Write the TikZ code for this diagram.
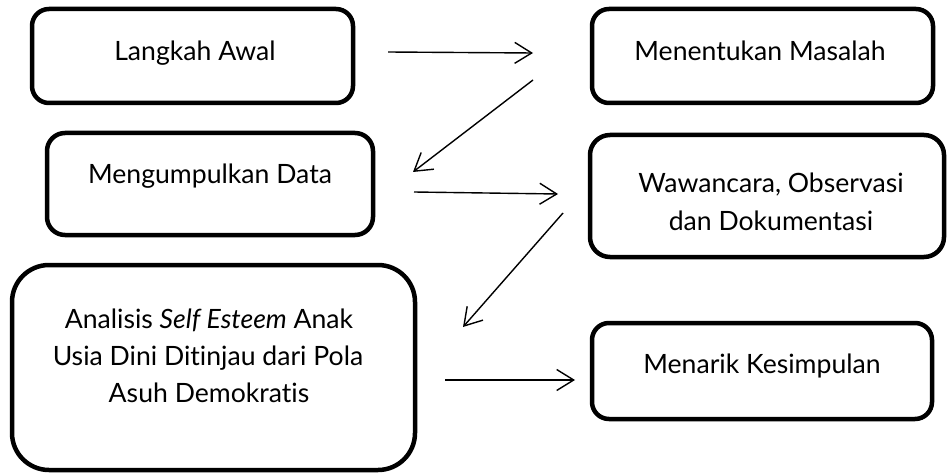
\documentclass[tikz,border=0pt]{standalone}
\usepackage{fontspec}
\setmainfont{Lato}[Ligatures=NoCommon]
\usetikzlibrary{arrows.meta}
\begin{document}
\begin{tikzpicture}[x=1pt,y=-1pt,
  box/.style={draw=black, line width=4.5pt, fill=white, inner sep=0pt},
  txt/.style={anchor=base, inner sep=0pt, font=\fontsize{26.6}{37}\selectfont},
  arr/.style={line width=1.4pt, -{Straight Barb[length=17pt,width=21pt,line width=1.4pt]}}]
\useasboundingbox[fill=white] (0,0) rectangle (947,473);
% boxes
\node[box, minimum width=321pt, minimum height=94pt, rounded corners=17pt] (b1) at (192.5,56) {};
\node[box, minimum width=341pt, minimum height=94pt, rounded corners=17pt] (b2) at (762.5,56) {};
\node[box, minimum width=326pt, minimum height=102pt, rounded corners=18pt] (b3) at (210,184) {};
\node[box, minimum width=354pt, minimum height=122pt, rounded corners=20pt] (b4) at (767,196) {};
\node[box, minimum width=403pt, minimum height=205pt, rounded corners=37pt] (b5) at (213.5,367.5) {};
\node[box, minimum width=340pt, minimum height=96pt, rounded corners=17pt] (b6) at (762,371) {};
% texts
\node[txt] (t1) at (195,61) {Langkah Awal};
\node[txt] (t2) at (760,61) {Menentukan Masalah};
\node[txt] (t3) at (210,183) {Mengumpulkan Data};
\node[txt] (t4a) at (771,193) {Wawancara, Observasi};
\node[txt] (t4b) at (771,230) {dan Dokumentasi};
\node[txt] (t5a) at (209,328) {Analisis \textit{Self Esteem} Anak};
\node[txt] (t5b) at (208,365) {Usia Dini Ditinjau dari Pola};
\node[txt] (t5c) at (209,402) {Asuh Demokratis};
\node[txt] (t6) at (762,373) {Menarik Kesimpulan};
% arrow ends
\coordinate (a1s) at (388,52);  \coordinate (a1e) at (533,53);
\coordinate (a2s) at (533,80);  \coordinate (a2e) at (413,172);
\coordinate (a3s) at (414,192); \coordinate (a3e) at (558,194);
\coordinate (a4s) at (563,213); \coordinate (a4e) at (463,327);
\coordinate (a5s) at (445,380); \coordinate (a5e) at (575,380);
\draw[arr] (a1s) -- (a1e);
\draw[arr] (a2s) -- (a2e);
\draw[arr] (a3s) -- (a3e);
\draw[arr] (a4s) -- (a4e);
\draw[arr] (a5s) -- (a5e);
\end{tikzpicture}
\end{document}
